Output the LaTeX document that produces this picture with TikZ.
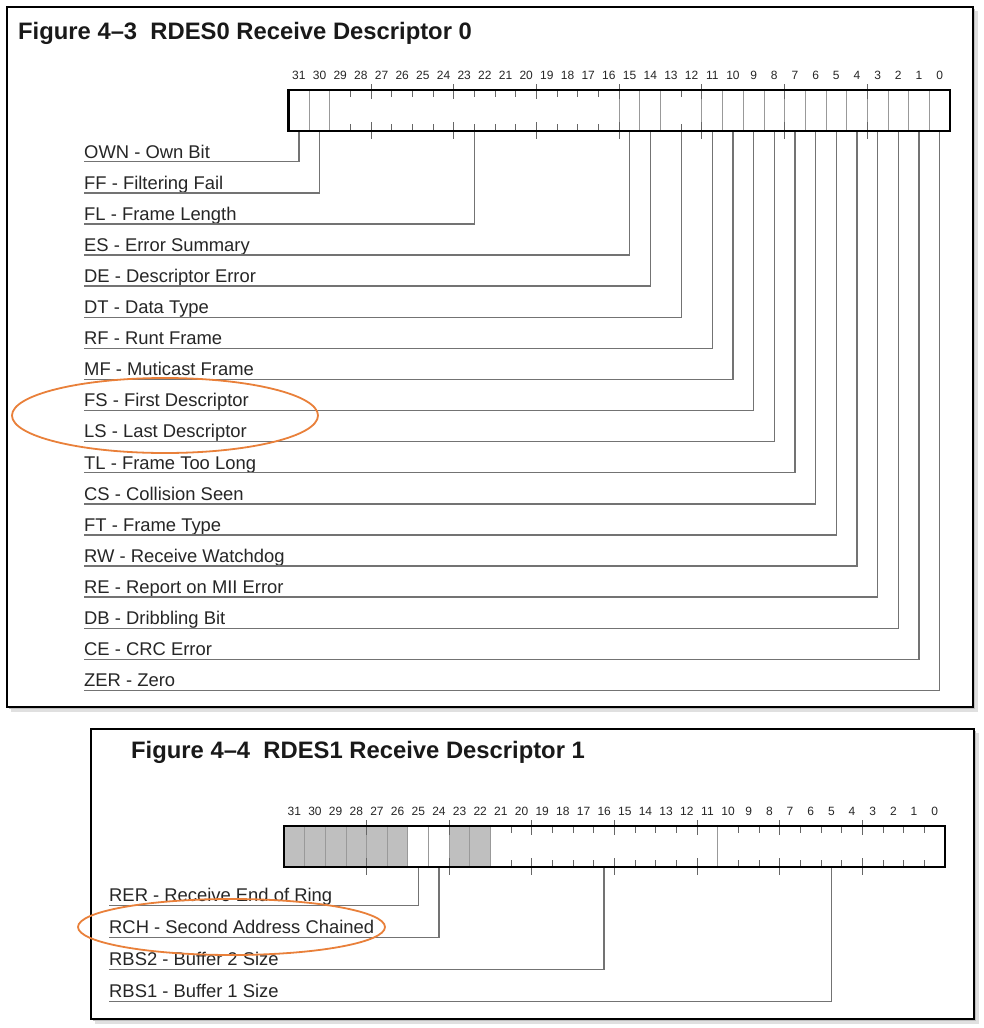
\documentclass[tikz,border=0pt]{standalone}
\usepackage{fontspec}
\setmainfont{Liberation Sans}
\definecolor{hilite}{RGB}{233,128,58}
\begin{document}
\begin{tikzpicture}[x=1pt,y=-1pt,
    panel/.style={draw=black,line width=1.3pt,fill=white},
    title/.style={font=\fontsize{23.8}{25}\selectfont\bfseries,anchor=base west,inner sep=0pt,text=black!90},
    field/.style={font=\fontsize{18.4}{21}\selectfont,anchor=south west,inner sep=0pt,text depth=3.5pt,text=black!85},
    bitno/.style={font=\fontsize{12}{12}\selectfont,inner sep=0pt,text=black!85},
    lead/.style={draw=black!55,line width=1.4pt},
    divide/.style={draw=black!40,line width=0.9pt},
    tick/.style={draw=black!60,line width=0.9pt},
    frame/.style={draw=black,line width=2.6pt},
    ring/.style={draw=hilite,line width=1.8pt}]
    %% Page
    \useasboundingbox (0,0) rectangle (984,1028);
    %% Panels with shadow
    \fill[black!12] (11,11) rectangle (978,712);
    \fill[black!25] (9,9) rectangle (975,709);
    \fill[black!12] (95,733) rectangle (979,1024);
    \fill[black!25] (93,731) rectangle (976,1021);
    \draw[panel] (7,7) rectangle (973,707);
    \draw[panel] (91,729) rectangle (974,1019);
    \node[title] (titleA) at (18,39.5) {Figure 4–3\ \ RDES0 Receive Descriptor 0};
    \node[title] (titleB) at (131,758.5) {Figure 4–4\ \ RDES1 Receive Descriptor 1};

    %% RDES0 register
    \def\wA{20.672}
    \foreach \b in {0,...,31}
        \node[bitno] (nA\b) at ({288.5+(31-\b+0.5)*\wA},75) {\b};
    \foreach \k in {1,2,16,17,18,20,21,...,31}
        \draw[divide] ({288.5+\k*\wA},90) -- ++(0,41);
    \foreach \k in {3,...,15,19} {
        \draw[tick] ({288.5+\k*\wA},90) -- ++(0,7);
        \draw[tick] ({288.5+\k*\wA},131) -- ++(0,-7);
    }
    \foreach \k in {4,8,...,28} {
        \draw[tick] ({288.5+\k*\wA},84) -- ++(0,15);
        \draw[tick] ({288.5+\k*\wA},122) -- ++(0,17);
    }
    %% Fields of RDES0
    \foreach \nm/\txt/\o [count=\i from 0] in {
        OWN/{OWN - Own Bit}/0.5, FF/{FF - Filtering Fail}/1.5,
        FL/{FL - Frame Length}/9, ES/{ES - Error Summary}/16.5,
        DE/{DE - Descriptor Error}/17.5, DT/{DT - Data Type}/19,
        RF/{RF - Runt Frame}/20.5, MF/{MF - Muticast Frame}/21.5,
        FS/{FS - First Descriptor}/22.5, LS/{LS - Last Descriptor}/23.5,
        TL/{TL - Frame Too Long}/24.5, CS/{CS - Collision Seen}/25.5,
        FT/{FT - Frame Type}/26.5, RW/{RW - Receive Watchdog}/27.5,
        RE/{RE - Report on MII Error}/28.5, DB/{DB - Dribbling Bit}/29.5,
        CE/{CE - CRC Error}/30.5, ZER/{ZER - Zero}/31.5} {
        \node[field] (\nm) at (84,{161.7+\i*31.1}) {\txt};
        \coordinate (b\nm) at ({288.5+\o*\wA},131);
        \draw[lead] (b\nm) |- (\nm.south west);
    }
    \draw[frame] (288.5,90) rectangle (950,131);

    %% RDES1 register
    \def\wB{20.656}
    \fill[black!25] (284,826) rectangle ++({6*\wB},41);
    \fill[black!25] ({284+8*\wB},826) rectangle ++({2*\wB},41);
    \foreach \b in {0,...,31}
        \node[bitno] (nB\b) at ({284+(31-\b+0.5)*\wB},811) {\b};
    \foreach \k in {1,...,10,21}
        \draw[divide] ({284+\k*\wB},826) -- ++(0,41);
    \foreach \k in {11,...,20,22,23,...,31} {
        \draw[tick] ({284+\k*\wB},826) -- ++(0,7);
        \draw[tick] ({284+\k*\wB},867) -- ++(0,-7);
    }
    \foreach \k in {4,8,...,28} {
        \draw[tick] ({284+\k*\wB},820) -- ++(0,15);
        \draw[tick] ({284+\k*\wB},858) -- ++(0,17);
    }
    %% Fields of RDES1
    \foreach \nm/\txt/\o [count=\i from 0] in {
        RER/{RER - Receive End of Ring}/6.5, RCH/{RCH - Second Address Chained}/7.5,
        RBStwo/{RBS2 - Buffer 2 Size}/15.5, RBSone/{RBS1 - Buffer 1 Size}/26.5} {
        \node[field] (\nm) at (109,{905.5+\i*32}) {\txt};
        \coordinate (b\nm) at ({284+\o*\wB},867);
        \draw[lead] (b\nm) |- (\nm.south west);
    }
    \draw[frame] (284,826) rectangle (945,867);

    %% Highlights
    \draw[ring] (165,415.5) ellipse [x radius=153pt, y radius=37.5pt];
    \draw[ring] (231.5,927) ellipse [x radius=153.5pt, y radius=28pt];
\end{tikzpicture}
\end{document}
